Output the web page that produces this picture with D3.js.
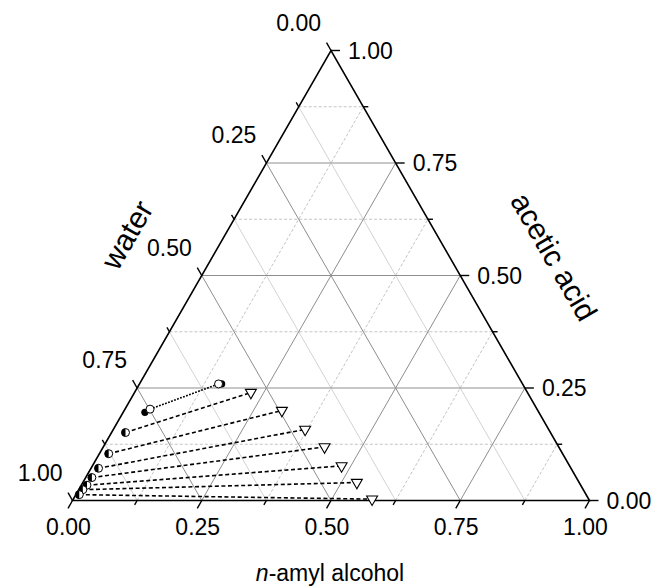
<!DOCTYPE html>
<html>
<head>
<meta charset="utf-8">
<script src="https://cdn.jsdelivr.net/npm/d3@7"></script>
<style>
  html, body { margin: 0; padding: 0; background: #fff; }
  svg { display: block; font-family: Arial, "Liberation Sans", sans-serif; }
</style>
</head>
<body>
<svg id="chart" width="659" height="588"></svg>
<script>
// Tie-line data, mass fractions (n-amyl alcohol, acetic acid); water = 1 - both.
const aqueousAmyl    = [0.0485, 0.027, 0.018, 0.0145, 0.012, 0.011, 0.008, 0.0066];
const aqueousAcetic  = [0.203, 0.151, 0.104, 0.0716, 0.051, 0.034, 0.024, 0.013];
const organicAmyl    = [0.153, 0.225, 0.305, 0.371, 0.428, 0.482, 0.530, 0.578];
const organicAcetic  = [0.259, 0.240, 0.200, 0.158, 0.119, 0.077, 0.040, 0.003];
// Extra single points (filled) near the first tie line
const extraAmyl      = [0.042, 0.159];
const extraAcetic    = [0.196, 0.259];

const tickValues  = [0, 0.25, 0.5, 0.75, 1];
const minorValues = [0.125, 0.375, 0.625, 0.875];
const gridMajor   = [0.25, 0.5, 0.75];
const axisTitles  = { bottom: "amyl alcohol", bottomPrefix: "n", right: "acetic acid", left: "water" };

const svg = d3.select("#chart");
svg.append("rect").attr("width", 659).attr("height", 588).attr("fill", "#fff");

// Scales: horizontal position along the base, vertical position by acetic acid fraction
const xScale = d3.scaleLinear().domain([0, 1]).range([72.5, 589.5]);
const yScale = d3.scaleLinear().domain([0, 1]).range([500.5, 50.5]);
const fmt = d3.format(".2f");

// (amyl, acetic) -> pixel
const P = (m, a) => [xScale(m + a / 2), yScale(a)];

const line = d3.line();

// Outward unit directions for ticks
const dxW = xScale(0.5) - xScale(0), dyW = yScale(0) - yScale(1);
const len = Math.hypot(dxW, dyW);
const dirBottom = [-dxW / len, dyW / len];   // down-left
const dirLeft   = [-dxW / len, -dyW / len];  // up-left
const dirRight  = [1, 0];

const grid = svg.append("g");

function gridSegs(v) {
  return {
    acetic: [P(0, v), P(1 - v, v)],
    amyl:   [P(v, 0), P(v, 1 - v)],
    water:  [P(1 - v, 0), P(0, 1 - v)]
  };
}

// minor grid
minorValues.forEach(v => {
  const s = gridSegs(v);
  grid.append("path").attr("d", line(s.acetic)).attr("stroke", "#c4c4c4")
      .attr("stroke-width", 1).attr("stroke-dasharray", "3,2").attr("fill", "none");
  grid.append("path").attr("d", line(s.amyl)).attr("stroke", "#c4c4c4")
      .attr("stroke-width", 1).attr("stroke-dasharray", "3,2").attr("fill", "none");
  grid.append("path").attr("d", line(s.water)).attr("stroke", "#d2d2d2")
      .attr("stroke-width", 1).attr("fill", "none");
});
// major grid
gridMajor.forEach(v => {
  const s = gridSegs(v);
  ["acetic", "amyl", "water"].forEach(k => {
    grid.append("path").attr("d", line(s[k])).attr("stroke", "#8e8e8e")
        .attr("stroke-width", 1).attr("fill", "none");
  });
});

// Triangle frame
const frame = svg.append("g");
frame.append("path")
  .attr("d", line([P(0, 0), P(1, 0), P(0, 1)]) + "Z")
  .attr("fill", "none").attr("stroke", "#000").attr("stroke-width", 1.6)
  .attr("stroke-linejoin", "miter");

// Ticks and labels
const ticks = svg.append("g").attr("stroke", "#000").attr("stroke-width", 1.4);
function tick(p, dir, L) {
  ticks.append("line").attr("x1", p[0]).attr("y1", p[1])
    .attr("x2", p[0] + dir[0] * L).attr("y2", p[1] + dir[1] * L);
}
tickValues.forEach(v => {
  tick(P(v, 0), dirBottom, 9);
  tick(P(1 - v, v), dirRight, 9);
  tick(P(0, 1 - v), dirLeft, 9);
});
minorValues.forEach(v => {
  tick(P(v, 0), dirBottom, 5);
  tick(P(1 - v, v), dirRight, 5);
  tick(P(0, 1 - v), dirLeft, 5);
});

const labels = svg.append("g").attr("font-size", 23).attr("fill", "#000");
tickValues.forEach(v => {
  const b = P(v, 0);
  labels.append("text").attr("x", b[0] - 4).attr("y", b[1] + 34)
    .attr("text-anchor", "middle").text(fmt(v));
  const r = P(1 - v, v);
  labels.append("text").attr("x", r[0] + 17).attr("y", r[1] + 8)
    .attr("text-anchor", "start").text(fmt(v));
  const l = P(0, 1 - v);
  labels.append("text").attr("x", l[0] - 10).attr("y", l[1] - 20)
    .attr("text-anchor", "end").text(fmt(v));
});

// Axis titles
const titles = svg.append("g").attr("fill", "#000");
const bt = titles.append("text").attr("x", 330).attr("y", 581)
  .attr("font-size", 23).attr("text-anchor", "middle");
bt.append("tspan").attr("font-style", "italic").text(axisTitles.bottomPrefix);
bt.append("tspan").text("-" + axisTitles.bottom);
titles.append("text").attr("text-anchor", "middle").attr("font-size", 30)
  .attr("transform", "translate(136,240) rotate(-60)").text(axisTitles.left);
titles.append("text").attr("text-anchor", "middle").attr("font-size", 30)
  .attr("transform", "translate(545,262) rotate(60)").text(axisTitles.right);

// Tie lines
const tie = svg.append("g");
aqueousAmyl.forEach((m, i) => {
  const a = P(m, aqueousAcetic[i]);
  const o = P(organicAmyl[i], organicAcetic[i]);
  tie.append("path").attr("d", line([a, o])).attr("fill", "none")
    .attr("stroke", "#000").attr("stroke-width", 1.6)
    .attr("stroke-dasharray", i === 0 ? "1.8,1.4" : "4,2.6");
});

// Markers
const marks = svg.append("g");
const tri = d3.symbol().type(d3.symbolTriangle).size(52);
// filled extra points
extraAmyl.forEach((m, i) => {
  const p = P(m, extraAcetic[i]);
  marks.append("circle").attr("cx", p[0]).attr("cy", p[1]).attr("r", 3.6).attr("fill", "#000");
});
aqueousAmyl.forEach((m, i) => {
  const a = P(m, aqueousAcetic[i]);
  const o = P(organicAmyl[i], organicAcetic[i]);
  if (i === 0) {
    [a, o].forEach(p => {
      marks.append("circle").attr("cx", p[0]).attr("cy", p[1]).attr("r", 4)
        .attr("fill", "#fff").attr("stroke", "#000").attr("stroke-width", 1);
    });
  } else {
    // aqueous end: half-filled circle
    const g = marks.append("g").attr("transform", `translate(${a[0]},${a[1]})`);
    g.append("circle").attr("r", 4).attr("fill", "#fff").attr("stroke", "#000").attr("stroke-width", 1);
    g.append("path").attr("d", d3.arc()({ innerRadius: 0, outerRadius: 4, startAngle: Math.PI, endAngle: 2 * Math.PI }))
      .attr("fill", "#000");
    // organic end: open down triangle
    marks.append("path").attr("d", tri())
      .attr("transform", `translate(${o[0]},${o[1]}) rotate(180)`)
      .attr("fill", "#fff").attr("stroke", "#000").attr("stroke-width", 1.1);
  }
});
</script>
</body>
</html>
